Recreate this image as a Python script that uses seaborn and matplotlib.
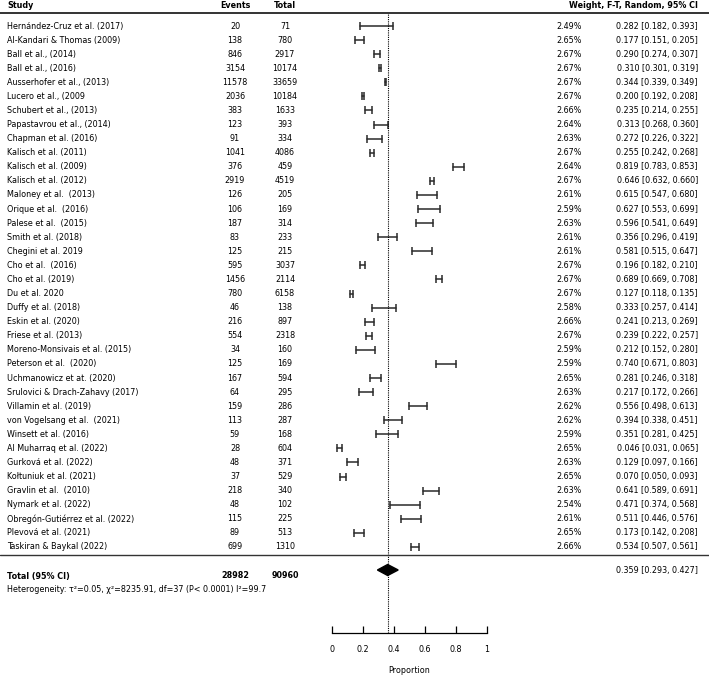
import numpy as np
import pandas as pd
import matplotlib.pyplot as plt
import matplotlib.transforms as mtransforms
from matplotlib.lines import Line2D
import seaborn as sns

# ==================== Data ====================
studies = [
    'Hernández-Cruz et al. (2017)', 'Al-Kandari & Thomas (2009)', 'Ball et al., (2014)',
    'Ball et al., (2016)', 'Ausserhofer et al., (2013)', 'Lucero et al., (2009',
    'Schubert et al., (2013)', 'Papastavrou et al., (2014)', 'Chapman et al. (2016)',
    'Kalisch et al. (2011)', 'Kalisch et al. (2009)', 'Kalisch et al. (2012)',
    'Maloney et al.  (2013)', 'Orique et al.  (2016)', 'Palese et al.  (2015)',
    'Smith et al. (2018)', 'Chegini et al. 2019', 'Cho et al.  (2016)',
    'Cho et al. (2019)', 'Du et al. 2020', 'Duffy et al. (2018)',
    'Eskin et al. (2020)', 'Friese et al. (2013)', 'Moreno-Monsivais et al. (2015)',
    'Peterson et al.  (2020)', 'Uchmanowicz et at. (2020)', 'Srulovici & Drach-Zahavy (2017)',
    'Villamin et al. (2019)', 'von Vogelsang et al.  (2021)', 'Winsett et al. (2016)',
    'Al Muharraq et al. (2022)', 'Gurková et al. (2022)', 'Kołtuniuk et al. (2021)',
    'Gravlin et al.  (2010)', 'Nymark et al. (2022)', 'Obregón-Gutiérrez et al. (2022)',
    'Plevová et al. (2021)', 'Taskiran & Baykal (2022)',
]
events = [20, 138, 846, 3154, 11578, 2036, 383, 123, 91, 1041, 376, 2919, 126, 106, 187,
          83, 125, 595, 1456, 780, 46, 216, 554, 34, 125, 167, 64, 159, 113, 59, 28, 48,
          37, 218, 48, 115, 89, 699]
totals = [71, 780, 2917, 10174, 33659, 10184, 1633, 393, 334, 4086, 459, 4519, 205, 169,
          314, 233, 215, 3037, 2114, 6158, 138, 897, 2318, 160, 169, 594, 295, 286, 287,
          168, 604, 371, 529, 340, 102, 225, 513, 1310]
weights = [2.49, 2.65, 2.67, 2.67, 2.67, 2.67, 2.66, 2.64, 2.63, 2.67, 2.64, 2.67, 2.61,
           2.59, 2.63, 2.61, 2.61, 2.67, 2.67, 2.67, 2.58, 2.66, 2.67, 2.59, 2.59, 2.65,
           2.63, 2.62, 2.62, 2.59, 2.65, 2.63, 2.65, 2.63, 2.54, 2.61, 2.65, 2.66]
props = [0.282, 0.177, 0.290, 0.310, 0.344, 0.200, 0.235, 0.313, 0.272, 0.255, 0.819,
         0.646, 0.615, 0.627, 0.596, 0.356, 0.581, 0.196, 0.689, 0.127, 0.333, 0.241,
         0.239, 0.212, 0.740, 0.281, 0.217, 0.556, 0.394, 0.351, 0.046, 0.129, 0.070,
         0.641, 0.471, 0.511, 0.173, 0.534]
ci_low = [0.182, 0.151, 0.274, 0.301, 0.339, 0.192, 0.214, 0.268, 0.226, 0.242, 0.783,
          0.632, 0.547, 0.553, 0.541, 0.296, 0.515, 0.182, 0.669, 0.118, 0.257, 0.213,
          0.222, 0.152, 0.671, 0.246, 0.172, 0.498, 0.338, 0.281, 0.031, 0.097, 0.050,
          0.589, 0.374, 0.446, 0.142, 0.507]
ci_high = [0.393, 0.205, 0.307, 0.319, 0.349, 0.208, 0.255, 0.360, 0.322, 0.268, 0.853,
           0.660, 0.680, 0.699, 0.649, 0.419, 0.647, 0.210, 0.708, 0.135, 0.414, 0.269,
           0.257, 0.280, 0.803, 0.318, 0.266, 0.613, 0.451, 0.425, 0.065, 0.166, 0.093,
           0.691, 0.568, 0.576, 0.208, 0.561]

pooled, pooled_lo, pooled_hi = 0.359, 0.293, 0.427
total_events, total_n = 28982, 90960
heterogeneity = 'Heterogeneity: τ²=0.05, χ²=8235.91, df=37 (P< 0.0001) I²=99.7'
xticks = [0, 0.2, 0.4, 0.6, 0.8, 1]
xtick_labels = ['0', '0.2', '0.4', '0.6', '0.8', '1']

# ==================== Figure ====================
sns.set_theme(style='white')
plt.rcParams['font.family'] = ['DejaVu Sans']
FS = 5.8

W, H = 709, 675
fig = plt.figure(figsize=(W / 100, H / 100), dpi=100)


def fy(px):
    return 1 - px / H


ROW0, STEP = 26, 14.08


def row(px):
    return (px - ROW0) / STEP


ax = fig.add_axes([332 / W, fy(633), 155 / W, (633 - 14) / H])

df = pd.DataFrame({'study': studies, 'row': np.arange(len(studies)),
                   'lo': ci_low, 'hi': ci_high})
long = df.melt(id_vars=['study', 'row'], value_vars=['lo', 'hi'], value_name='value')

line_col = '#2a2a2a'
sns.lineplot(data=long, x='value', y='row', units='study', estimator=None, sort=False,
             color=line_col, linewidth=1.1, ax=ax, legend=False)
sns.scatterplot(data=long, x='value', y='row', marker='|', s=26, linewidth=1.1,
                color=line_col, ax=ax, legend=False)

# pooled estimate
ax.axvline(pooled, color='black', ls=(0, (1, 1)), lw=0.8)
r_sum = row(570)
h = 5.5 / STEP
ax.fill([pooled_lo, pooled, pooled_hi, pooled], [r_sum, r_sum - h, r_sum, r_sum + h],
        color='black', zorder=3)

ax.set_xlim(0, 1)
ax.set_ylim(row(633), row(14))
ax.set_yticks([])
ax.set_ylabel('')
ax.set_xticks(xticks)
ax.set_xticklabels(xtick_labels)
ax.tick_params(axis='x', direction='in', length=5, width=0.9, pad=9, labelsize=FS,
               colors='black', bottom=True)
sns.despine(ax=ax, left=True)
ax.spines['bottom'].set_color('black')
ax.spines['bottom'].set_linewidth(0.9)
ax.set_xlabel('Proportion', fontsize=FS, labelpad=8, color='black')

# ==================== Table text ====================
trans = mtransforms.blended_transform_factory(fig.transFigure, ax.transData)
X_STUDY, X_EV, X_TOT, X_W, X_CI = 7 / W, 235 / W, 285 / W, 582 / W, 698 / W

r_head = row(5)
kw = dict(transform=trans, fontsize=FS, va='center', color='black', clip_on=False)
ax.text(X_STUDY, r_head, 'Study', ha='left', fontweight='bold', **kw)
ax.text(X_EV, r_head, 'Events', ha='center', fontweight='bold', **kw)
ax.text(X_TOT, r_head, 'Total', ha='center', fontweight='bold', **kw)
ax.text(X_CI, r_head, 'Weight, F-T, Random, 95% CI', ha='right', fontweight='bold', **kw)

for i in range(len(studies)):
    ax.text(X_STUDY, i, studies[i], ha='left', **kw)
    ax.text(X_EV, i, f'{events[i]}', ha='center', **kw)
    ax.text(X_TOT, i, f'{totals[i]}', ha='center', **kw)
    ax.text(X_W, i, f'{weights[i]:.2f}%', ha='right', **kw)
    ax.text(X_CI, i, f'{props[i]:.3f} [{ci_low[i]:.3f}, {ci_high[i]:.3f}]', ha='right', **kw)

r_tot = row(576)
ax.text(X_STUDY, r_tot, 'Total (95% CI)', ha='left', fontweight='bold', **kw)
ax.text(X_EV, r_tot, f'{total_events}', ha='center', fontweight='bold', **kw)
ax.text(X_TOT, r_tot, f'{total_n}', ha='center', fontweight='bold', **kw)
ax.text(X_CI, r_sum, f'{pooled:.3f} [{pooled_lo:.3f}, {pooled_hi:.3f}]', ha='right', **kw)
ax.text(X_STUDY, row(589), heterogeneity, ha='left', **kw)

# horizontal rules
fig.add_artist(Line2D([0, 1], [fy(13), fy(13)], transform=fig.transFigure,
                      color='#333333', lw=1.4))
fig.add_artist(Line2D([0, 1], [fy(555), fy(555)], transform=fig.transFigure,
                      color='#333333', lw=1.0))

fig.savefig('out.png', dpi=100)
